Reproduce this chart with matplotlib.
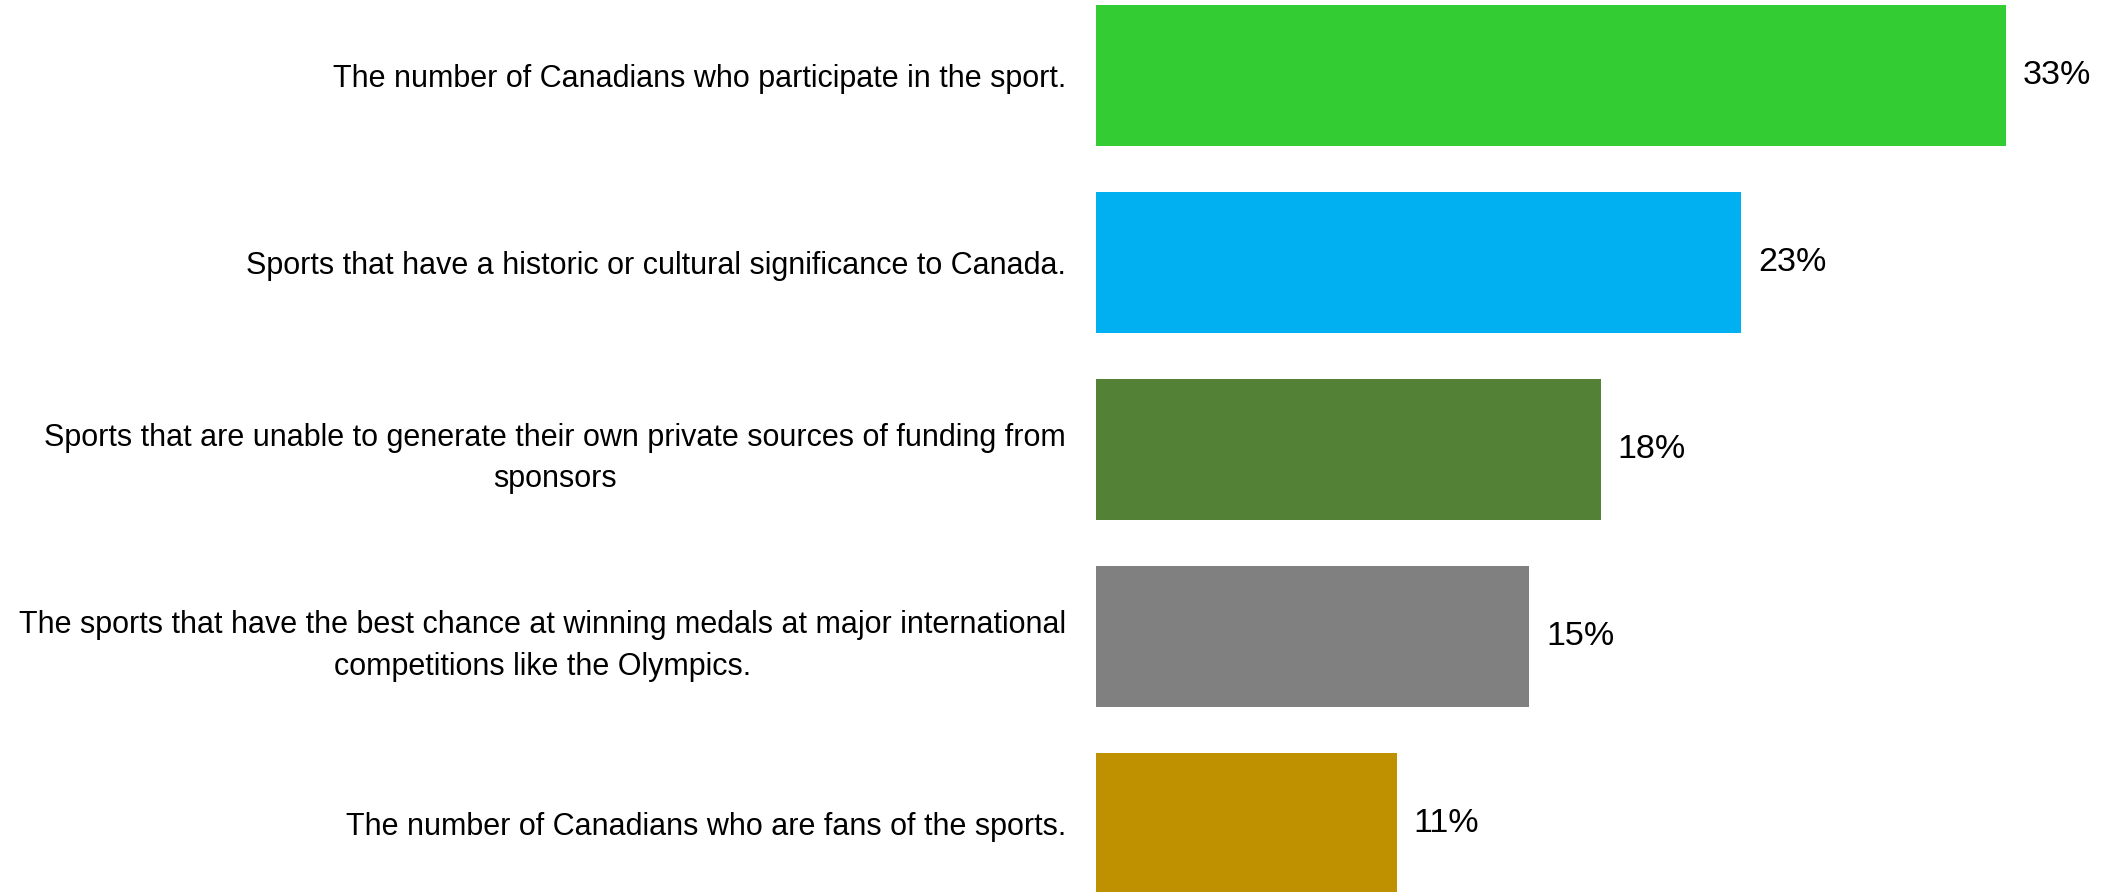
import numpy as np
import matplotlib.pyplot as plt

plt.rcParams["font.family"] = ["Liberation Sans", "DejaVu Sans"]

categories = [
    "The number of Canadians who participate in the sport.",
    "Sports that have a historic or cultural significance to Canada.",
    "Sports that are unable to generate their own private sources of funding from\nsponsors",
    "The sports that have the best chance at winning medals at major international\ncompetitions like the Olympics.",
    "The number of Canadians who are fans of the sports.",
]
values = [33.0, 23.4, 18.3, 15.7, 10.9]
value_labels = ["33%", "23%", "18%", "15%", "11%"]
colors = ["#33CC33", "#00B0F0", "#538135", "#808080", "#BF9000"]

W, H = 2116, 892
fig = plt.figure(figsize=(W / 100, H / 100), dpi=100)
ax = fig.add_axes([1096 / W, 0, 1020 / W, 1])

y = np.arange(len(categories))
ax.barh(y, values, height=0.754, color=colors)

ax.set_xlim(0, 1020 / 27.58)
ax.set_ylim((H - 75.5) / 187, -75.5 / 187)

for yi, v, lab in zip(y, values, value_labels):
    ax.annotate(lab, (v, yi), xytext=(17, 0), textcoords="offset pixels",
                va="center", ha="left", fontsize=24.5, color="#000000")

ax.set_yticks(y)
ax.set_yticklabels(categories, fontsize=22, color="#000000",
                   multialignment="center", linespacing=1.5)
ax.tick_params(axis="y", length=0, pad=30 * 72 / 100)
ax.set_xticks([])
for s in ax.spines.values():
    s.set_visible(False)

fig.savefig("out.png", dpi=100)
